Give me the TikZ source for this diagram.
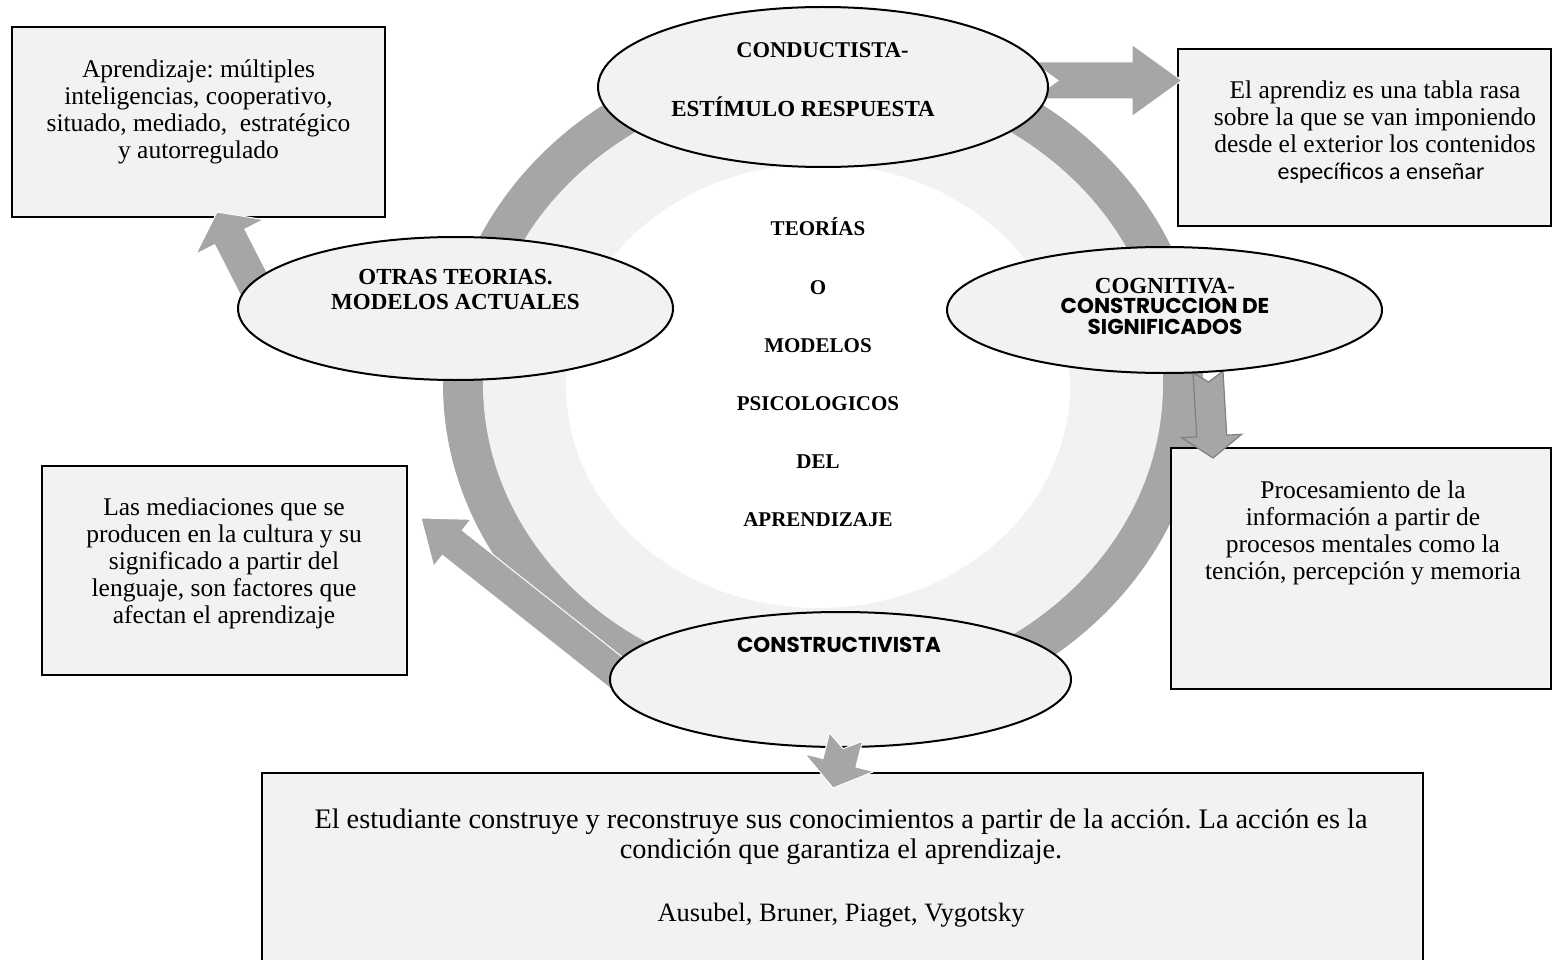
\documentclass[tikz,border=0pt]{standalone}
\usepackage{fontspec}
\setmainfont{Liberation Serif}
\newfontfamily\geosans{Poppins}
\newfontfamily\calibrifont{Carlito}
\usetikzlibrary{calc,shapes.geometric}

\definecolor{ringgray}{RGB}{166,166,166}
\definecolor{panelgray}{RGB}{242,242,242}
\definecolor{arrowline}{RGB}{128,128,128}

\tikzset{
  infobox/.style={draw=black, line width=2.6pt, fill=panelgray, inner sep=0pt, outer sep=0pt},
  theory/.style={ellipse, draw=black, line width=2pt, fill=panelgray, inner sep=0pt, outer sep=0pt},
  bodytext/.style={align=center, inner sep=0pt, font=\fontsize{25.5}{27}\selectfont},
  titletext/.style={align=center, inner sep=0pt},
  blockarrow/.style={fill=ringgray, draw=white, line width=1pt},
  outlinedarrow/.style={fill=ringgray, draw=arrowline, line width=1.2pt},
}

% notched block arrow: #1 style, #2 tail, #3 tip, #4 shaft half width,
% #5 head half width, #6 head length, #7 notch depth
\newcommand\notchedarrow[7]{%
  \coordinate (na-notch) at ($(#2)!#7!(#3)$);
  \coordinate (na-base) at ($(#3)!#6!(#2)$);
  \path[#1] ($(#2)!#4!90:(#3)$) -- ($(na-base)!#4!-90:(#2)$)
    -- ($(na-base)!#5!-90:(#2)$) -- (#3) -- ($(na-base)!#5!90:(#2)$)
    -- ($(na-base)!#4!90:(#2)$) -- ($(#2)!#4!-90:(#3)$) -- (na-notch) -- cycle;
}

\begin{document}
\frenchspacing
\begin{tikzpicture}[x=1pt,y=-1pt]
\useasboundingbox (0,0) rectangle (1552,960);
\clip (0,0) rectangle (1552,960);

% cycle ring behind the theories
\fill[ringgray] (823,384) ellipse [x radius=380pt, y radius=342pt];
\fill[panelgray] (823,384) ellipse [x radius=340pt, y radius=302pt];
\fill[white] (818,386) ellipse [x radius=252pt, y radius=222pt];

% description boxes
\node[infobox, minimum width=373pt, minimum height=190pt] (boxOtras) at (198.5,122) {};
\node[infobox, minimum width=373pt, minimum height=177pt] (boxCond) at (1364.5,137.5) {};
\node[infobox, minimum width=365pt, minimum height=209pt] (boxMed) at (224.5,570.5) {};
\node[infobox, minimum width=380pt, minimum height=241pt] (boxCog) at (1361,568.5) {};
\node[infobox, minimum width=1161pt, minimum height=220pt] (boxConst) at (842.5,883) {};

% arrow end points
\coordinate (tailOtras) at (262,300);
\coordinate (tipOtras) at (217,212);
\coordinate (tailMed) at (628,682);
\coordinate (tipMed) at (421,518);
\coordinate (tailCond) at (1032,80.5);
\coordinate (tipCond) at (1182,80.5);
\coordinate (tailCog) at (1208,372);
\coordinate (tipCog) at (1213,458);
\coordinate (tailConst) at (846,737);
\coordinate (tipConst) at (833,788);

% arrows whose tails sit under the theory ellipses
\notchedarrow{blockarrow}{tailOtras}{tipOtras}{17pt}{38pt}{28pt}{0pt}
\notchedarrow{blockarrow}{tailMed}{tipMed}{16pt}{30pt}{40pt}{0pt}
\notchedarrow{blockarrow}{tailCond}{tipCond}{18.5pt}{36pt}{50pt}{26pt}
\notchedarrow{outlinedarrow}{tailCog}{tipCog}{15pt}{30pt}{22pt}{10pt}

% theory ellipses
\node[theory, minimum width=450pt, minimum height=160pt] (eCond) at (823,87) {};
\node[theory, minimum width=435pt, minimum height=143pt] (eOtras) at (455.5,308.5) {};
\node[theory, minimum width=435pt, minimum height=126pt] (eCog) at (1164.5,310) {};
\node[theory, minimum width=461pt, minimum height=135pt] (eConst) at (840.5,679.5) {};

\notchedarrow{blockarrow}{tailConst}{tipConst}{17pt}{35.5pt}{26pt}{12pt}

% ellipse titles
\node[titletext, font=\bfseries\fontsize{22.5}{25}\selectfont] (tCondA) at (822.5,50) {CONDUCTISTA-};
\node[titletext, font=\bfseries\fontsize{23}{25}\selectfont] (tCondB) at (803,107) {ESTÍMULO RESPUESTA};
\node[titletext, font=\bfseries\fontsize{23}{25}\selectfont] (tOtras) at (455.5,289.5)
  {OTRAS TEORIAS.\\MODELOS ACTUALES};
\node[titletext, font=\geosans\bfseries\fontsize{21.5}{20.5}\selectfont] (tCog) at (1165,306)
  {{\rmfamily\fontsize{23}{20.5}\selectfont COGNITIVA-}\\CONSTRUCCION DE\\SIGNIFICADOS};
\node[titletext, font=\geosans\bfseries\fontsize{21.5}{21}\selectfont] (tConst) at (839,645)
  {CONSTRUCTIVISTA};

% centre of the cycle
\node[titletext, font=\bfseries\fontsize{21}{58.2}\selectfont] (tCentre) at (818,372.5)
  {TEORÍAS\\O\\MODELOS\\PSICOLOGICOS\\DEL\\APRENDIZAJE};

% box texts
\node[bodytext] (xOtras) at (198.5,112)
  {Aprendizaje: múltiples\\inteligencias, cooperativo,\\situado, mediado,\ \ estratégico\\y autorregulado};
\node[bodytext] (xCond) at (1375,132.5)
  {El aprendiz es una tabla rasa\\sobre la que se van imponiendo\\desde el exterior los contenidos\\{\calibrifont\fontsize{24}{27}\selectfont\hspace*{12pt}específicos a enseñar}};
\node[bodytext] (xMed) at (224,563.5)
  {Las mediaciones que se\\producen en la cultura y su\\significado a partir del\\lenguaje, son factores que\\afectan el aprendizaje};
\node[bodytext] (xCog) at (1363,532.5)
  {Procesamiento de la\\información a partir de\\procesos mentales como la\\tención, percepción y memoria};
\node[bodytext, font=\fontsize{28.3}{30}\selectfont] (xConst) at (841,837)
  {El estudiante construye y reconstruye sus conocimientos a partir de la acción. La acción es la\\condición que garantiza el aprendizaje.};
\node[bodytext, font=\fontsize{26.5}{27}\selectfont] (xAuthors) at (841,915) {Ausubel, Bruner, Piaget, Vygotsky};
\end{tikzpicture}
\end{document}
